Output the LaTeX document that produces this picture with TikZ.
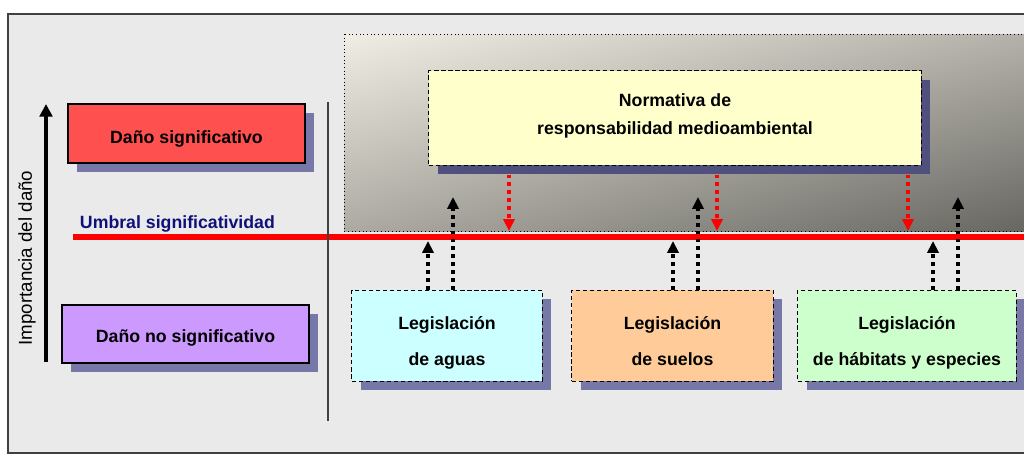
\documentclass[tikz,border=0pt]{standalone}
\usepackage{fontspec}
\setmainfont{Liberation Sans}
\usetikzlibrary{arrows.meta,shadows,shadings}

\definecolor{fondo}{RGB}{234,234,234}
\definecolor{marco}{RGB}{64,64,64}
\definecolor{rojocaja}{RGB}{255,80,80}
\definecolor{lila}{RGB}{204,153,255}
\definecolor{amarillo}{RGB}{255,255,204}
\definecolor{celeste}{RGB}{204,255,255}
\definecolor{salmon}{RGB}{255,204,153}
\definecolor{verde}{RGB}{204,255,204}
\definecolor{sombra}{RGB}{120,120,168}
\definecolor{sombraosc}{RGB}{80,80,126}
\definecolor{marino}{RGB}{16,16,122}
\definecolor{grisA}{RGB}{240,238,228}
\definecolor{grisB}{RGB}{178,176,168}
\definecolor{grisC}{RGB}{172,170,162}
\definecolor{grisD}{RGB}{102,101,96}

\tikzset{
  caja/.style={draw=black, line width=0.9pt, inner sep=0pt, align=center,
    font=\fontsize{12.6}{15}\selectfont\bfseries,
    drop shadow={shadow xshift=6.4pt, shadow yshift=-6.4pt, fill=sombra, opacity=1}},
  legis/.style={caja, line width=0.7pt, dash pattern=on 3pt off 2pt,
    minimum height=2.275cm, text height=42.2pt, text depth=0pt,
    font=\fontsize{12.6}{25.5}\selectfont\bfseries},
  flechanegra/.style={line width=2.6pt, dash pattern=on 2.6pt off 3pt,
    -{Triangle[width=8pt,length=8.5pt]}},
  flecharoja/.style={flechanegra, red, line width=2.3pt}
}

\begin{document}
\begin{tikzpicture}[x=0.025cm, y=-0.025cm]
	%%%%% START %%%%%
	\useasboundingbox (0,0) rectangle (1024,454);
	\clip (0,0) rectangle (1024,454);
	
	\draw[fill=fondo, draw=marco, line width=1pt] (8,14) rectangle (1040,453);
	
	% zona de dano significativo
	\shade[upper left=grisA, upper right=grisB, lower left=grisC, lower right=grisD]
	       (344,34) rectangle (1040,231);
	\draw[black, line width=0.6pt, dotted] (344,34) rectangle (1040,231);
	
	% umbral
	\draw[red, line width=4.3pt] (73,237) -- (1030,237);
	\node[anchor=base west, text=marino, font=\fontsize{12.6}{15}\selectfont\bfseries] (umbral) at (75,228) {Umbral significatividad};
	
	\draw[marco, line width=1.1pt] (328,102) -- (328,421);
	
	% eje
	\coordinate (eje0) at (46,362);
	\coordinate (eje1) at (46,104);
	\draw[line width=2.8pt, -{Triangle[width=9pt,length=9pt]}] (eje0) -- (eje1);
	\node[rotate=90, font=\fontsize{13.3}{15}\selectfont] (importancia) at (27,258) {Importancia del daño};
	
	\node[caja, fill=rojocaja, minimum width=5.925cm, minimum height=1.475cm, text height=14.4pt, text depth=0pt] (significativo) at (186.5,133.5) {Daño significativo};
	\node[caja, fill=lila, minimum width=6.175cm, minimum height=1.45cm, text height=12.6pt, text depth=0pt] (nosignificativo) at (185.5,334) {Daño no significativo};
	
	\node[caja, fill=amarillo, line width=0.7pt, dash pattern=on 3pt off 2pt, minimum width=12.3cm, minimum height=2.35cm,
	      font=\fontsize{12.6}{20}\selectfont\bfseries, text depth=5.5pt,
	      drop shadow={shadow xshift=6.6pt, shadow yshift=-6.4pt, fill=sombraosc, opacity=1}]
	      (norma) at (675,118) {Normativa de\\responsabilidad medioambiental};
	
	\node[legis, fill=celeste, minimum width=4.75cm] (aguas) at (447,335.5) {Legislación\\de aguas};
	\node[legis, fill=salmon, minimum width=5.025cm] (suelos) at (672.5,335.5) {Legislación\\de suelos};
	\node[legis, fill=verde, minimum width=5.45cm] (habitats) at (907,335.5) {Legislación\\de hábitats y especies};
	
	% flechas
	\coordinate (n1) at (428,241);
	\coordinate (n2) at (453,197);
	\coordinate (n3) at (673,241);
	\coordinate (n4) at (698,197);
	\coordinate (n5) at (933,241);
	\coordinate (n6) at (958,197);
	\coordinate (r1) at (509,231);
	\coordinate (r2) at (717,231);
	\coordinate (r3) at (908,231);
	
	\draw[flechanegra] (aguas.north -| n1) -- (n1);
	\draw[flechanegra] (aguas.north -| n2) -- (n2);
	\draw[flechanegra] (suelos.north -| n3) -- (n3);
	\draw[flechanegra] (suelos.north -| n4) -- (n4);
	\draw[flechanegra] (habitats.north -| n5) -- (n5);
	\draw[flechanegra] (habitats.north -| n6) -- (n6);
	
	\draw[flecharoja] ([yshift=-6.4pt]norma.south -| r1) -- (r1);
	\draw[flecharoja] ([yshift=-6.4pt]norma.south -| r2) -- (r2);
	\draw[flecharoja] ([yshift=-6.4pt]norma.south -| r3) -- (r3);
	%%%%% END %%%%%
\end{tikzpicture}
\end{document}
